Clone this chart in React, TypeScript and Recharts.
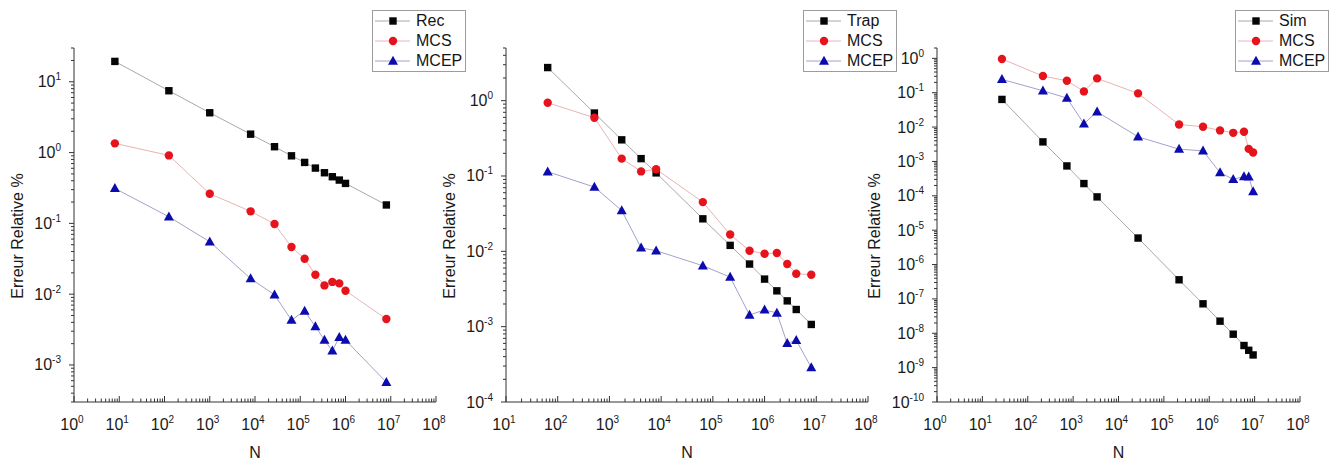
import React from 'react';
import { LineChart, Line, XAxis, YAxis, Legend } from 'recharts';

const FONT = '"Liberation Sans", Arial, Helvetica, sans-serif';

// ---------- Panel 1 : Rec / MCS / MCEP ----------
const N1 = [8, 125, 1000, 8000, 27000, 64000, 125000, 216000, 343000, 512000, 729000, 1000000, 8000000];
const rec = [19.4, 7.47, 3.65, 1.82, 1.21, 0.9, 0.726, 0.604, 0.519, 0.456, 0.409, 0.367, 0.182];
const mcs1 = [1.35, 0.912, 0.262, 0.148, 0.098, 0.0464, 0.0317, 0.0188, 0.0133, 0.0149, 0.0142, 0.0112, 0.00446];
const mcep1 = [0.312, 0.124, 0.055, 0.0166, 0.0098, 0.0043, 0.0058, 0.0035, 0.00225, 0.00158, 0.00246, 0.00225, 0.00057];
const names1 = ['Rec', 'MCS', 'MCEP'];

// ---------- Panel 2 : Trap / MCS / MCEP ----------
const N2 = [64, 512, 1728, 4096, 8000, 64000, 216000, 512000, 1000000, 1728000, 2744000, 4096000, 8000000];
const trap = [2.75, 0.685, 0.302, 0.17, 0.11, 0.027, 0.012, 0.00678, 0.00428, 0.00299, 0.0022, 0.00169, 0.00107];
const mcs2 = [0.94, 0.593, 0.17, 0.115, 0.123, 0.045, 0.0167, 0.0102, 0.0093, 0.0095, 0.0068, 0.00504, 0.00489];
const mcep2 = [0.114, 0.0713, 0.0348, 0.0111, 0.0102, 0.00644, 0.00455, 0.00143, 0.00167, 0.00152, 0.0006, 0.00066, 0.000287];
const names2 = ['Trap', 'MCS', 'MCEP'];

// ---------- Panel 3 : Sim / MCS / MCEP ----------
const N3 = [27, 216, 729, 1728, 3375, 27000, 216000, 729000, 1728000, 3375000, 5832000, 7414875, 9261000];
const sim = [0.0638, 0.00371, 7.4e-4, 2.27e-4, 9.3e-5, 5.9e-6, 3.6e-7, 7.2e-8, 2.25e-8, 9.4e-9, 4.4e-9, 3.2e-9, 2.34e-9];
const mcs3 = [0.957, 0.305, 0.223, 0.109, 0.261, 0.0955, 0.0119, 0.0102, 0.008, 0.0068, 0.0073, 0.00232, 0.00182];
const mcep3 = [0.244, 0.114, 0.07, 0.0125, 0.0279, 0.0052, 0.00228, 0.00203, 4.74e-4, 3.03e-4, 3.63e-4, 3.55e-4, 1.33e-4];
const names3 = ['Sim', 'MCS', 'MCEP'];

// axis domains
const xDomain1: [number, number] = [1, 1e8];
const yDomain1: [number, number] = [3e-4, 30];
const xDomain2: [number, number] = [10, 1e8];
const yDomain2: [number, number] = [1e-4, 5];
const xDomain3: [number, number] = [1, 1e8];
const yDomain3: [number, number] = [1e-10, 2];

const X_TITLE = 'N';
const Y_TITLE = 'Erreur Relative %';

const STYLES = [
  { fill: '#050505', line: '#a9a9a9', shape: 'square' },
  { fill: '#e5141c', line: '#e9b4b4', shape: 'circle' },
  { fill: '#0c0cae', line: '#a2a2cc', shape: 'triangle' },
];

function logTicks(domain: [number, number]) {
  const [lo, hi] = domain;
  const out: number[] = [];
  for (let k = Math.floor(Math.log10(lo)); k <= Math.ceil(Math.log10(hi)); k++) {
    for (let m = 1; m <= 9; m++) {
      const v = m * Math.pow(10, k);
      if (v >= lo * (1 - 1e-9) && v <= hi * (1 + 1e-9)) out.push(v);
    }
  }
  return out;
}

function isMajor(v: number) {
  const l = Math.log10(v);
  return Math.abs(l - Math.round(l)) < 1e-6;
}

function Marker({ shape, cx, cy, fill }: any) {
  if (cx == null || cy == null || isNaN(cx) || isNaN(cy)) return null;
  if (shape === 'square') return <rect x={cx - 3.7} y={cy - 3.7} width={7.4} height={7.4} fill={fill} />;
  if (shape === 'circle') return <circle cx={cx} cy={cy} r={4.2} fill={fill} />;
  return <polygon points={`${cx},${cy - 5.3} ${cx + 5},${cy + 3.7} ${cx - 5},${cy + 3.7}`} fill={fill} />;
}

const XTick = (props: any) => {
  const { x, y, payload } = props;
  const v = payload.value;
  const major = isMajor(v);
  const e = Math.round(Math.log10(v));
  return (
    <g>
      <line x1={x} x2={x} y1={y} y2={y - (major ? 6 : 3.5)} stroke="#333" strokeWidth={1} />
      {major && (
        <text x={x - 2} y={y + 28} textAnchor="middle" fontSize={16} fill="#1a1a1a" fontFamily={FONT}>
          10<tspan dy={-7} fontSize={10}>{e}</tspan>
        </text>
      )}
    </g>
  );
};

const YTick = (props: any) => {
  const { x, y, payload } = props;
  const v = payload.value;
  const major = isMajor(v);
  const e = Math.round(Math.log10(v));
  return (
    <g>
      <line x1={x} x2={x - (major ? 5 : 3)} y1={y} y2={y} stroke="#333" strokeWidth={1} />
      {major && (
        <text x={x - 13} y={y + 5.5} textAnchor="end" fontSize={16} fill="#1a1a1a" fontFamily={FONT}>
          10<tspan dy={-7} fontSize={10}>{e}</tspan>
        </text>
      )}
    </g>
  );
};

const LegendBox = ({ names }: { names: string[] }) => (
  <div
    style={{
      display: 'inline-block',
      border: '1px solid #9c9c9c',
      background: '#fff',
      paddingRight: 3,
      fontFamily: FONT,
    }}
  >
    {names.map((nm, i) => (
      <div key={nm} style={{ display: 'flex', alignItems: 'center', height: 20 }}>
        <svg width={40} height={20} style={{ display: 'block' }}>
          <line x1={2} x2={37} y1={10} y2={10} stroke={STYLES[i].line} strokeWidth={1} />
          <Marker shape={STYLES[i].shape} cx={20} cy={10} fill={STYLES[i].fill} />
        </svg>
        <span style={{ marginLeft: 3, fontSize: 16, color: '#151515', lineHeight: '20px' }}>{nm}</span>
      </div>
    ))}
  </div>
);

type Panel = {
  left: number;
  width: number;
  marginLeft: number;
  marginRight: number;
  yAxisWidth: number;
  yLabelOffset: number;
  legendLeft: number;
  xDomain: [number, number];
  yDomain: [number, number];
  n: number[];
  series: number[][];
  names: string[];
};

const PANELS: Panel[] = [
  { left: 0, width: 470, marginLeft: 14, marginRight: 34, yAxisWidth: 60, yLabelOffset: 51, legendLeft: 372, xDomain: xDomain1, yDomain: yDomain1, n: N1, series: [rec, mcs1, mcep1], names: names1 },
  { left: 425, width: 475, marginLeft: 21, marginRight: 32, yAxisWidth: 60, yLabelOffset: 51, legendLeft: 378, xDomain: xDomain2, yDomain: yDomain2, n: N2, series: [trap, mcs2, mcep2], names: names2 },
  { left: 860, width: 477, marginLeft: 22, marginRight: 37, yAxisWidth: 55, yLabelOffset: 57, legendLeft: 375, xDomain: xDomain3, yDomain: yDomain3, n: N3, series: [sim, mcs3, mcep3], names: names3 },
];

const HEIGHT = 461;

function PanelChart({ p }: { p: Panel }) {
  const data = p.n.map((n, i) => ({ n, s0: p.series[0][i], s1: p.series[1][i], s2: p.series[2][i] }));
  const xt = logTicks(p.xDomain);
  const yt = logTicks(p.yDomain);
  const plotLeft = p.marginLeft + p.yAxisWidth;
  return (
    <div style={{ position: 'absolute', left: p.left, top: 0 }}>
      <LineChart width={p.width} height={HEIGHT} data={data} margin={{ top: 48, right: p.marginRight, bottom: 0, left: p.marginLeft }}>
        <XAxis
          dataKey="n"
          type="number"
          scale="log"
          domain={p.xDomain}
          allowDataOverflow
          ticks={xt}
          interval={0}
          tickSize={0}
          tickMargin={0}
          tickLine={false}
          tick={XTick}
          height={59}
          axisLine={{ stroke: '#333', strokeWidth: 1 }}
          label={(lp: any) => {
            const vb = lp.viewBox || {};
            return (
              <text x={vb.x + vb.width / 2} y={vb.y + 56} textAnchor="middle" fontSize={16} fill="#1a1a1a" fontFamily={FONT}>
                {X_TITLE}
              </text>
            );
          }}
        />
        <YAxis
          type="number"
          scale="log"
          domain={p.yDomain}
          allowDataOverflow
          ticks={yt}
          interval={0}
          tickSize={0}
          tickMargin={0}
          tickLine={false}
          tick={YTick}
          width={p.yAxisWidth}
          axisLine={{ stroke: '#333', strokeWidth: 1 }}
          label={() => {
            const x = plotLeft - p.yLabelOffset;
            const y = 236;
            return (
              <text x={x} y={y} transform={`rotate(-90, ${x}, ${y})`} textAnchor="middle" fontSize={16} fill="#1a1a1a" fontFamily={FONT}>
                {Y_TITLE}
              </text>
            );
          }}
        />
        <Legend
          layout="horizontal"
          verticalAlign="middle"
          align="center"
          wrapperStyle={{ left: p.legendLeft, top: 10, width: 'auto', height: 'auto' }}
          content={() => <LegendBox names={p.names} />}
        />
        {[0, 1, 2].map((i) => (
          <Line
            key={i}
            name={p.names[i]}
            dataKey={`s${i}`}
            type="linear"
            stroke={STYLES[i].line}
            strokeWidth={1}
            isAnimationActive={false}
            activeDot={false}
            dot={(dp: any) => (
              <Marker key={`d${i}-${dp.index}`} shape={STYLES[i].shape} cx={dp.cx} cy={dp.cy} fill={STYLES[i].fill} />
            )}
          />
        ))}
      </LineChart>
    </div>
  );
}

export default function App() {
  return (
    <div style={{ position: 'absolute', left: 0, top: 0, width: 1337, height: HEIGHT, background: '#fff', overflow: 'hidden' }}>
      {PANELS.map((p, i) => (
        <PanelChart key={i} p={p} />
      ))}
    </div>
  );
}
